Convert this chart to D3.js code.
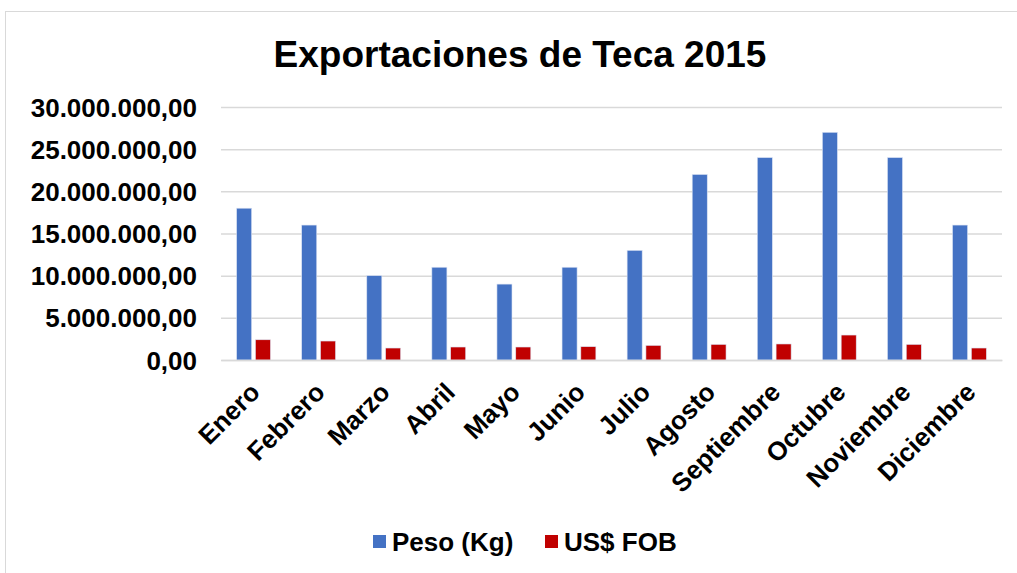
<!DOCTYPE html>
<html>
<head>
<meta charset="utf-8">
<script src="https://cdn.jsdelivr.net/npm/d3@7"></script>
<style>
  body { margin: 0; background: #fff; }
  text { font-family: "Liberation Sans", Arial, sans-serif; font-weight: bold; fill: #000; }
</style>
</head>
<body>
<script>
// data
const months = ['Enero', 'Febrero', 'Marzo', 'Abril', 'Mayo', 'Junio',
    'Julio', 'Agosto', 'Septiembre', 'Octubre', 'Noviembre', 'Diciembre']
const peso = [18000000, 16000000, 10000000, 11000000, 9000000, 11000000,
    13000000, 22000000, 24000000, 27000000, 24000000, 16000000]
const fob = [2400000, 2250000, 1420000, 1540000, 1540000, 1580000,
    1730000, 1850000, 1900000, 2960000, 1850000, 1420000]
const seriesNames = ['Peso (Kg)', 'US$ FOB']
const seriesColors = ['#4472C4', '#C00000']
const yTicks = [0, 5000000, 10000000, 15000000, 20000000, 25000000, 30000000]

const W = 1017, H = 573
const margin = {top: 107, right: 15, bottom: 213, left: 221},
    width = W - margin.left - margin.right,
    height = H - margin.top - margin.bottom

const locale = d3.formatLocale({decimal: ',', thousands: '.', grouping: [3], currency: ['$', '']})
const fmt = locale.format(',.2f')

const svg = d3.select('body').append('svg')
    .attr('width', W)
    .attr('height', H)

// chart border
svg.append('rect')
    .attr('x', 5.5).attr('y', 11.5)
    .attr('width', W + 20).attr('height', H + 20)
    .attr('fill', 'none')
    .attr('stroke', '#d9d9d9')

// title
svg.append('text')
    .attr('x', 520)
    .attr('y', 67)
    .attr('text-anchor', 'middle')
    .style('font-size', '37px')
    .text('Exportaciones de Teca 2015')

const g = svg.append('g')
    .attr('transform', 'translate(' + margin.left + ',' + margin.top + ')')

const x0 = d3.scaleBand()
    .domain(months)
    .range([0, width])
    .paddingInner(0.48)
    .paddingOuter(0.24)
const x1 = d3.scaleBand()
    .domain(seriesNames)
    .range([0, x0.bandwidth()])
    .paddingInner(0.2)
const y = d3.scaleLinear()
    .domain([0, 30000000])
    .range([height, 0])

// gridlines + y labels
const yAxis = g.append('g')
    .attr('class', 'y-axis')
    .call(d3.axisLeft(y).tickValues(yTicks).tickFormat(fmt).tickSize(-width).tickPadding(24))
yAxis.select('.domain').remove()
yAxis.selectAll('line').attr('stroke', '#d9d9d9').attr('stroke-width', 1.5)
yAxis.selectAll('text').style('font-size', '26px').attr('dy', '0.35em')

// bars
const data = months.map((m, i) => ({month: m, values: [peso[i], fob[i]]}))
const groups = g.selectAll('.grp')
    .data(data)
    .enter().append('g')
    .attr('class', 'grp')
    .attr('transform', d => 'translate(' + x0(d.month) + ',0)')
groups.selectAll('rect')
    .data(d => d.values.map((v, j) => ({name: seriesNames[j], value: v, color: seriesColors[j]})))
    .enter().append('rect')
    .attr('x', d => x1(d.name))
    .attr('width', x1.bandwidth())
    .attr('y', d => y(d.value))
    .attr('height', d => height - y(d.value))
    .attr('fill', d => d.color)
    .attr('stroke', '#dbe3f3')
    .attr('stroke-width', 0.6)

// x axis
const xAxis = g.append('g')
    .attr('class', 'x-axis')
    .attr('transform', 'translate(0,' + height + ')')
    .call(d3.axisBottom(x0).tickSize(0).tickPadding(0))
xAxis.select('.domain').attr('stroke', '#d9d9d9').attr('stroke-width', 1.5)
xAxis.selectAll('text')
    .style('font-size', '26px')
    .style('text-anchor', 'end')
    .attr('dy', '0.7em')
    .attr('transform', 'translate(-5,21) rotate(-45)')

// legend
const legend = svg.append('g').attr('class', 'legend')
const legendX = [373, 545]
seriesNames.forEach((name, i) => {
    legend.append('rect')
        .attr('x', legendX[i]).attr('y', 535)
        .attr('width', 13).attr('height', 13)
        .attr('fill', seriesColors[i])
    legend.append('text')
        .attr('x', legendX[i] + 19).attr('y', 551)
        .style('font-size', '26px')
        .text(name)
})
</script>
</body>
</html>
